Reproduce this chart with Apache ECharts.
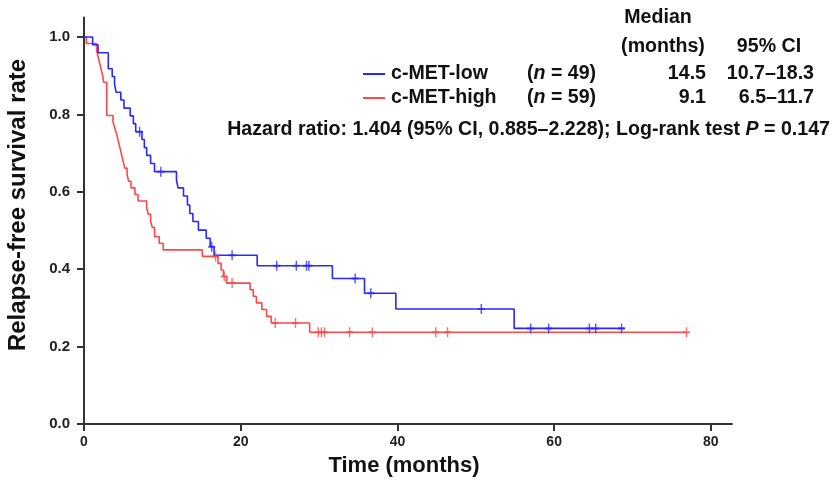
<!DOCTYPE html>
<html>
<head>
<meta charset="utf-8">
<script src="https://cdn.jsdelivr.net/npm/echarts@6/dist/echarts.min.js"></script>
<style>
  html, body { margin: 0; padding: 0; background: #fff; }
  #chart { width: 832px; height: 479px; }
</style>
</head>
<body>
<div id="chart"></div>
<script>
// Kaplan-Meier steps: [months, survival after the drop]
const lowCurve = [
  [0, 1.0], [1.1, 0.980], [1.8, 0.959], [3.1, 0.918], [3.6, 0.898], [3.9, 0.878],
  [4.1, 0.857], [4.7, 0.837], [5.1, 0.816], [5.9, 0.796], [6.3, 0.776], [6.6, 0.755],
  [7.4, 0.735], [7.7, 0.714], [8.0, 0.694], [8.5, 0.673], [9.0, 0.652], [11.8, 0.631],
  [12.0, 0.610], [12.7, 0.589], [13.2, 0.566], [13.5, 0.544], [13.9, 0.523], [14.6, 0.501],
  [15.6, 0.480], [16.1, 0.458], [16.6, 0.436], [22.1, 0.409], [31.7, 0.376], [35.8, 0.338],
  [39.8, 0.297], [54.9, 0.247], [69.0, 0.247]
];
const highCurve = [
  [0, 1.0], [0.3, 0.983], [1.6, 0.966], [1.8, 0.949], [2.0, 0.932], [2.2, 0.915],
  [2.4, 0.898], [2.5, 0.883], [2.9, 0.797], [3.7, 0.780], [3.95, 0.763], [4.2, 0.746],
  [4.4, 0.729], [4.6, 0.712], [4.8, 0.695], [5.0, 0.678], [5.2, 0.661], [5.5, 0.644],
  [5.7, 0.627], [6.0, 0.610], [6.5, 0.593], [6.9, 0.576], [8.0, 0.559], [8.2, 0.542],
  [8.5, 0.525], [8.7, 0.508], [9.0, 0.484], [9.6, 0.467], [10.1, 0.450], [15.1, 0.433],
  [17.1, 0.415], [17.5, 0.398], [17.8, 0.381], [18.2, 0.364], [21.2, 0.347], [21.6, 0.330],
  [22.0, 0.313], [22.7, 0.296], [23.3, 0.278], [23.9, 0.261], [28.8, 0.237], [76.9, 0.237]
];
// censored times (tick marks)
const lowCensored = [7.1, 9.8, 16.3, 18.9, 24.6, 27.1, 28.4, 28.7, 34.6, 36.6, 50.7, 57.0, 59.3, 64.5, 65.3, 68.6];
const highCensored = [16.8, 17.9, 18.9, 24.4, 27.0, 29.9, 30.3, 30.7, 33.9, 36.8, 44.9, 46.4, 76.9];

const xTicks = [0, 20, 40, 60, 80];
const yTicks = [0, 0.2, 0.4, 0.6, 0.8, 1.0];

const groups = ['c-MET-low', 'c-MET-high'];
const groupN = [49, 59];
const medians = ['14.5', '9.1'];
const cis = ['10.7\u201318.3', '6.5\u201311.7'];
const colors = ['#2828ff', '#ff4848'];

// value of the step curve at time t
function survivalAt(curve, t) {
  let s = curve[0][1];
  for (const p of curve) {
    if (p[0] <= t) s = p[1];
  }
  return s;
}

const plusSymbol = 'path://M4,0h2v4h4v2h-4v4h-2v-4h-4v-2h4z';
const font = 'Liberation Sans, Arial, sans-serif';
const noteFont = 'bold 19.6px ' + font;

const chart = echarts.init(document.getElementById('chart'), null, { renderer: 'canvas' });

const rowY = [74, 98];
const legendGraphics = [];
groups.forEach((g, i) => {
  legendGraphics.push({
    type: 'line', shape: { x1: 363, y1: rowY[i], x2: 385, y2: rowY[i] },
    style: { stroke: colors[i], lineWidth: 2 }
  });
  legendGraphics.push({
    type: 'text', x: 391, y: rowY[i],
    style: { text: g, font: noteFont, fill: '#111', verticalAlign: 'middle' }
  });
  legendGraphics.push({
    type: 'text', x: 527, y: rowY[i],
    style: {
      text: '({n|n} = ' + groupN[i] + ')', font: noteFont, fill: '#111', verticalAlign: 'middle',
      rich: { n: { font: 'italic ' + noteFont, fill: '#111' } }
    }
  });
  legendGraphics.push({
    type: 'text', x: 706, y: rowY[i],
    style: { text: medians[i], font: noteFont, fill: '#111', align: 'right', verticalAlign: 'middle' }
  });
  legendGraphics.push({
    type: 'text', x: 814, y: rowY[i],
    style: { text: cis[i], font: noteFont, fill: '#111', align: 'right', verticalAlign: 'middle' }
  });
});

const option = {
  animation: false,
  backgroundColor: '#fff',
  grid: { left: 84, top: 17.6, width: 648, height: 406.4, containLabel: false },
  xAxis: {
    type: 'value', min: 0, max: 82.7,
    axisLine: { lineStyle: { color: '#333', width: 2 } },
    axisTick: { show: true, length: 7, customValues: xTicks, lineStyle: { color: '#333', width: 2 } },
    axisLabel: { customValues: xTicks, margin: 11, fontFamily: font, fontWeight: 'bold', fontSize: 14, color: '#222' },
    splitLine: { show: false }
  },
  yAxis: {
    type: 'value', min: 0, max: 1.05,
    axisLine: { show: true, lineStyle: { color: '#333', width: 2 } },
    axisTick: { show: true, length: 7, customValues: yTicks, lineStyle: { color: '#333', width: 2 } },
    axisLabel: {
      customValues: yTicks, margin: 14, fontFamily: font, fontWeight: 'bold', fontSize: 15, color: '#222',
      formatter: v => v.toFixed(1)
    },
    splitLine: { show: false }
  },
  series: [
    {
      name: groups[1], type: 'line', step: 'end', showSymbol: false, data: highCurve,
      lineStyle: { color: colors[1], width: 1.6 }, z: 2
    },
    {
      name: groups[0], type: 'line', step: 'end', showSymbol: false, data: lowCurve,
      lineStyle: { color: colors[0], width: 1.6 }, z: 3
    },
    {
      type: 'scatter', symbol: plusSymbol, symbolSize: [7, 10],
      itemStyle: { color: colors[1] }, z: 4,
      data: highCensored.map(t => [t, survivalAt(highCurve, t)])
    },
    {
      type: 'scatter', symbol: plusSymbol, symbolSize: [7, 10],
      itemStyle: { color: colors[0] }, z: 5,
      data: lowCensored.map(t => [t, survivalAt(lowCurve, t)])
    }
  ],
  graphic: [
    {
      type: 'text', x: 404, y: 466,
      style: { text: 'Time (months)', font: 'bold 22px ' + font, fill: '#111', align: 'center', verticalAlign: 'middle' }
    },
    {
      type: 'text', x: 18, y: 205, rotation: Math.PI / 2,
      style: { text: 'Relapse-free survival rate', font: 'bold 24px ' + font, fill: '#111', align: 'center', verticalAlign: 'middle' }
    },
    {
      type: 'text', x: 658, y: 18,
      style: { text: 'Median', font: noteFont, fill: '#111', align: 'center', verticalAlign: 'middle' }
    },
    {
      type: 'text', x: 663, y: 47,
      style: { text: '(months)', font: noteFont, fill: '#111', align: 'center', verticalAlign: 'middle' }
    },
    {
      type: 'text', x: 769, y: 47,
      style: { text: '95% CI', font: noteFont, fill: '#111', align: 'center', verticalAlign: 'middle' }
    },
    ...legendGraphics,
    {
      type: 'text', x: 830, y: 130,
      style: {
        text: 'Hazard ratio: 1.404 (95% CI, 0.885\u20132.228); Log-rank test {p|P} = 0.147',
        font: noteFont, fill: '#111', align: 'right', verticalAlign: 'middle',
        rich: { p: { font: 'italic ' + noteFont, fill: '#111' } }
      }
    }
  ]
};

chart.setOption(option);
</script>
</body>
</html>
